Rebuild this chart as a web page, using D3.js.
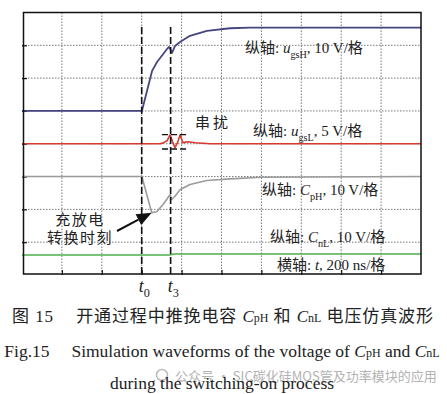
<!DOCTYPE html>
<html>
<head>
<meta charset="utf-8">
<script src="https://cdn.jsdelivr.net/npm/d3@7"></script>
<style>
body { margin: 0; background: #fff; }
svg text { font-family: "Liberation Serif", "Times New Roman", "Noto Sans CJK SC", serif; fill: #222; }
.cjk { font-family: "Noto Sans CJK SC", sans-serif; }
</style>
</head>
<body>
<div id="chart"></div>
<script>
// time axis, 200 ns per division
var timeTicks = [200, 400, 600, 800, 1000, 1200, 1400, 1600, 1800];
var divTicks = [1, 2, 3, 4, 5, 6, 7];
var t0 = 600, t3 = 745;

// u_gsH (V)
var tBlue = [0, 601, 652, 677, 727, 737, 752, 767, 792, 842, 927, 1043, 1143, 2000];
var vBlue = [0, 0, 12.2, 14.9, 18.9, 19.5, 17.7, 19.8, 21.0, 22.9, 24.4, 25.2, 25.4, 25.4];

// u_gsL (V), crosstalk
var tRed = [0, 690, 705, 727, 742, 755, 767, 780, 792, 807, 820, 832, 870, 943, 2000];
var vRed = [0, 0, 0.1, 0.45, 1.35, 0.3, -0.6, 0.2, 1.35, 0.15, 0.25, 0.3, 0.15, 0, 0];

// C_pH (V)
var tGray = [0, 601, 650, 675, 707, 725, 742, 750, 767, 792, 842, 926, 1043, 1200, 2000];
var vGray = [0, 0, -11, -10.7, -8.5, -7.0, -5.5, -7.0, -6.0, -4.0, -2.4, -1.2, -0.7, -0.2, 0];

// C_nL (V)
var tGreen = [0, 740, 760, 2000];
var vGreen = [0, 0, 0.3, 0.3];

var width = 447, height = 394;
var svg = d3.select("#chart").append("svg")
    .attr("width", width)
    .attr("height", height);

var xScale = d3.scaleLinear().domain([0, 2000]).range([22, 421]);
var yScale = d3.scaleLinear().domain([0, 8]).range([275, 12.5]);

// grid
svg.append("g").selectAll("line").data(timeTicks).enter().append("line")
    .attr("x1", d => xScale(d)).attr("x2", d => xScale(d))
    .attr("y1", yScale(8)).attr("y2", yScale(0))
    .attr("stroke", "#555").attr("stroke-width", 0.8)
    .attr("stroke-dasharray", "1.5,1.5");
svg.append("g").selectAll("line").data(divTicks).enter().append("line")
    .attr("x1", xScale(0)).attr("x2", xScale(2000))
    .attr("y1", d => yScale(d)).attr("y2", d => yScale(d))
    .attr("stroke", "#555").attr("stroke-width", 0.8)
    .attr("stroke-dasharray", "1.5,1.5");

// inner ticks
var yAxisG = svg.append("g")
    .attr("transform", "translate(" + xScale(0) + ",0)")
    .call(d3.axisLeft(yScale).tickValues(divTicks).tickSize(-5).tickFormat(""));
var xAxisG = svg.append("g")
    .attr("transform", "translate(0," + yScale(0) + ")")
    .call(d3.axisBottom(xScale).tickValues(timeTicks).tickSize(-5).tickFormat(""));
svg.selectAll(".domain").remove();
svg.selectAll(".tick line").attr("stroke", "#111").attr("stroke-width", 1.2);

// traces: zero level (divisions) and volts per division
var traces = [
    {t: tGreen, v: vGreen, zero: 0.61, perDiv: 10, color: "#4cb04c", w: 1.5},
    {t: tGray, v: vGray, zero: 3, perDiv: 10, color: "#9b9b9b", w: 1.6},
    {t: tRed, v: vRed, zero: 4, perDiv: 5, color: "#d83a32", w: 1.6},
    {t: tBlue, v: vBlue, zero: 5, perDiv: 10, color: "#45457f", w: 1.8}
];
traces.forEach(function(tr) {
    var pts = tr.t.map((t, i) => [t, tr.v[i]]);
    var line = d3.line()
        .x(d => xScale(d[0]))
        .y(d => yScale(tr.zero + d[1] / tr.perDiv));
    svg.append("path")
        .datum(pts)
        .attr("d", line)
        .attr("fill", "none")
        .attr("stroke", tr.color)
        .attr("stroke-width", tr.w)
        .attr("stroke-linejoin", "round");
});

// frame
svg.append("rect")
    .attr("x", xScale(0) + 1.5).attr("y", yScale(8))
    .attr("width", xScale(2000) - xScale(0) - 1.5)
    .attr("height", yScale(0) - yScale(8) - 1)
    .attr("fill", "none").attr("stroke", "#111").attr("stroke-width", 1.5);

// t0 / t3 markers
[t0, t3].forEach(function(t) {
    svg.append("line")
        .attr("x1", xScale(t)).attr("x2", xScale(t))
        .attr("y1", 27).attr("y2", yScale(0))
        .attr("stroke", "#111").attr("stroke-width", 1.6)
        .attr("stroke-dasharray", "7,3");
});

// crosstalk box
var redY = v => yScale(4 + v / 5);
[1.4, -0.8].forEach(function(v) {
    svg.append("line")
        .attr("x1", xScale(702)).attr("x2", xScale(827))
        .attr("y1", redY(v)).attr("y2", redY(v))
        .attr("stroke", "#111").attr("stroke-width", 1.3)
        .attr("stroke-dasharray", "6,3");
});

// label helper: parts with italic / subscript
function label(x, y, parts, size) {
    var txt = svg.append("text").attr("x", x).attr("y", y).style("font-size", size + "px");
    parts.forEach(function(p) {
        var ts = txt.append("tspan").text(p.t);
        if (p.i) ts.style("font-style", "italic");
        if (p.sub) ts.attr("dy", size * 0.3).style("font-size", (size * 0.68) + "px");
        if (p.back) ts.attr("dy", -size * 0.3);
    });
    return txt;
}

label(245, 53, [{t: "纵轴: "}, {t: "u", i: true}, {t: "gsH", sub: true}, {t: ", 10 V/格", back: true}], 15);
label(253, 136, [{t: "纵轴: "}, {t: "u", i: true}, {t: "gsL", sub: true}, {t: ", 5 V/格", back: true}], 15);
label(262, 195, [{t: "纵轴: "}, {t: "C", i: true}, {t: "pH", sub: true}, {t: ", 10 V/格", back: true}], 15);
label(270, 242, [{t: "纵轴: "}, {t: "C", i: true}, {t: "nL", sub: true}, {t: ", 10 V/格", back: true}], 15);
label(277, 270, [{t: "横轴: "}, {t: "t", i: true}, {t: ", 200 ns/格"}], 15);

// time labels
label(xScale(t0) - 3, 292, [{t: "t", i: true}, {t: "0", sub: true}], 18);
label(xScale(t3) - 3, 292, [{t: "t", i: true}, {t: "3", sub: true}], 18);

// annotations
svg.append("text").attr("class", "cjk")
    .attr("x", 195).attr("y", 128)
    .style("font-size", "15px").style("letter-spacing", "3px")
    .text("串扰");
svg.append("text").attr("class", "cjk")
    .attr("x", 80).attr("y", 225).attr("text-anchor", "middle")
    .style("font-size", "15px").style("letter-spacing", "1.5px")
    .text("充放电");
svg.append("text").attr("class", "cjk")
    .attr("x", 80).attr("y", 243).attr("text-anchor", "middle")
    .style("font-size", "15px").style("letter-spacing", "1.5px")
    .text("转换时刻");

// arrow to the charge/discharge turning point
var tipX = xScale(650), tipY = yScale(3 + vGray[2] / 10);
var tailX = 117, tailY = 231;
var ang = Math.atan2(tipY - tailY, tipX - tailX);
var headL = 15, headW = 6;
var bx = tipX - headL * Math.cos(ang), by = tipY - headL * Math.sin(ang);
svg.append("line")
    .attr("x1", tailX).attr("y1", tailY).attr("x2", bx).attr("y2", by)
    .attr("stroke", "#111").attr("stroke-width", 2);
svg.append("path")
    .attr("d", "M" + tipX + "," + tipY +
        "L" + (bx + headW * Math.sin(ang)) + "," + (by - headW * Math.cos(ang)) +
        "L" + (bx - headW * Math.sin(ang)) + "," + (by + headW * Math.cos(ang)) + "Z")
    .attr("fill", "#111");

// caption
var cap1 = svg.append("text").attr("x", 223).attr("y", 322).attr("text-anchor", "middle")
    .style("font-size", "17px");
cap1.append("tspan").text("图 15\u2003\u2009开通过程中推挽电容 ").style("letter-spacing", "0.9px");
cap1.append("tspan").text("C").style("font-style", "italic");
cap1.append("tspan").text("pH").style("font-size", "12px");
cap1.append("tspan").text(" 和 ").style("letter-spacing", "0.9px");
cap1.append("tspan").text("C").style("font-style", "italic");
cap1.append("tspan").text("nL").style("font-size", "12px");
cap1.append("tspan").text(" 电压仿真波形").style("letter-spacing", "0.9px");

var cap2 = svg.append("text").attr("x", 222).attr("y", 357).attr("text-anchor", "middle")
    .style("font-size", "17.5px");
cap2.append("tspan").text("Fig.15\u2003 Simulation waveforms of the voltage of ");
cap2.append("tspan").text("C").style("font-style", "italic");
cap2.append("tspan").text("pH").style("font-size", "12px");
cap2.append("tspan").text(" and ");
cap2.append("tspan").text("C").style("font-style", "italic");
cap2.append("tspan").text("nL").style("font-size", "12px");

// watermark
svg.append("circle").attr("cx", 162).attr("cy", 375).attr("r", 5.5)
    .attr("fill", "none").attr("stroke", "#bbb").attr("stroke-width", 1.5);
svg.append("text").attr("class", "cjk")
    .attr("x", 175).attr("y", 381)
    .style("font-size", "13px").style("fill", "#b3b3b3")
    .text("公众号 · SIC碳化硅MOS管及功率模块的应用");

svg.append("text").attr("x", 222).attr("y", 389).attr("text-anchor", "middle")
    .style("font-size", "17.5px")
    .text("during the switching-on process");
</script>
</body>
</html>
